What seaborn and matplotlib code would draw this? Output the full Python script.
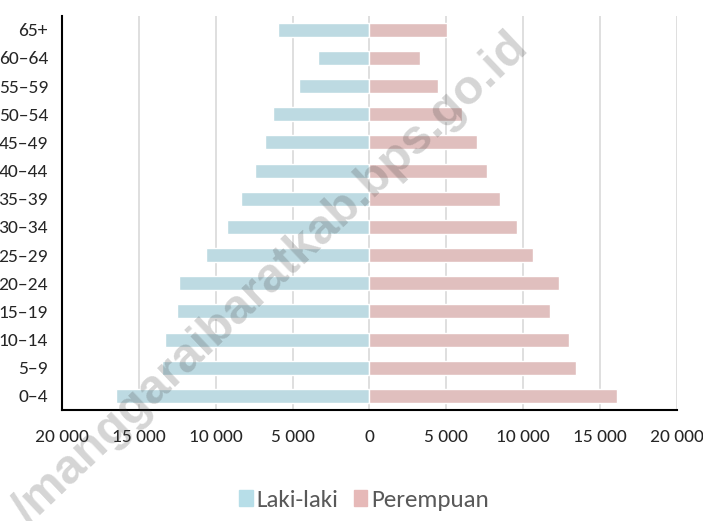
import numpy as np
import pandas as pd
import matplotlib
matplotlib.use('Agg')
import matplotlib.pyplot as plt
import matplotlib.ticker as mtick
from matplotlib.patches import Patch
import seaborn as sns

# data (top group first)
age_groups = ['65+', '60–64', '55–59', '50–54', '45–49', '40–44', '35–39',
              '30–34', '25–29', '20–24', '15–19', '10–14', '5–9', '0–4']
laki_laki = [5950, 3330, 4610, 6280, 6770, 7450, 8380,
             9260, 10630, 12410, 12500, 13320, 13520, 16500]
perempuan = [5020, 3270, 4440, 6010, 7010, 7620, 8500,
             9610, 10660, 12350, 11710, 12970, 13460, 16120]

df = pd.DataFrame({'umur': age_groups,
                   'laki': -np.array(laki_laki),
                   'perempuan': np.array(perempuan)})

sns.set_style('white')
plt.rcParams['font.family'] = ['Carlito', 'Liberation Sans Narrow', 'Roboto Condensed', 'DejaVu Sans']

fig = plt.figure(figsize=(7.03, 5.21), dpi=100)
ax = fig.add_axes([0.088, 0.213, 0.875, 0.757])

c_male = '#b7dee8'
c_female = '#e6b9b8'

sns.barplot(data=df, x='laki', y='umur', orient='h', color=c_male,
            width=0.5, ax=ax, zorder=2)
sns.barplot(data=df, x='perempuan', y='umur', orient='h', color=c_female,
            width=0.5, ax=ax, zorder=2)

ax.set_xlim(-20000, 20000)
ax.set_ylim(len(age_groups) - 0.5, -0.5)
ax.set_xlabel('')
ax.set_ylabel('')

ax.xaxis.set_major_locator(mtick.MultipleLocator(5000))
ax.xaxis.set_major_formatter(mtick.FuncFormatter(
    lambda v, p: f'{abs(int(v)):,}'.replace(',', ' ')))
ax.grid(axis='x', color='#d9d9d9', linewidth=1.2, zorder=0)
ax.set_axisbelow(True)

# excel-like ticks between categories on y
ax.set_yticks(np.arange(-0.5, len(age_groups), 1), minor=True)
ax.tick_params(axis='y', which='major', length=0, labelsize=14, pad=10)
ax.tick_params(axis='y', which='minor', length=5, width=1.5, direction='out', color='black')
ax.tick_params(axis='x', which='major', length=8, width=1.5, direction='inout',
               labelsize=14, pad=10, color='black')

for s in ['top', 'right']:
    ax.spines[s].set_visible(False)
for s in ['left', 'bottom']:
    ax.spines[s].set_color('black')
    ax.spines[s].set_linewidth(1.5)

handles = [Patch(color=c_male, label='Laki-laki'),
           Patch(color=c_female, label='Perempuan')]
fig.legend(handles=handles, loc='center', bbox_to_anchor=(0.518, 0.04), ncol=2,
           frameon=False, fontsize=18, handlelength=0.55, handleheight=0.65,
           handletextpad=0.15, columnspacing=0.6, labelcolor='#595959')

# watermark
fig.text(0.385, 0.465, '/manggaraibaratkab.bps.go.id', rotation=43.5, fontsize=35,
         fontweight='bold', color='#404040', alpha=0.22, ha='center', va='center',
         family=['Liberation Sans', 'DejaVu Sans'], zorder=10)

fig.savefig('out.png', dpi=100)
